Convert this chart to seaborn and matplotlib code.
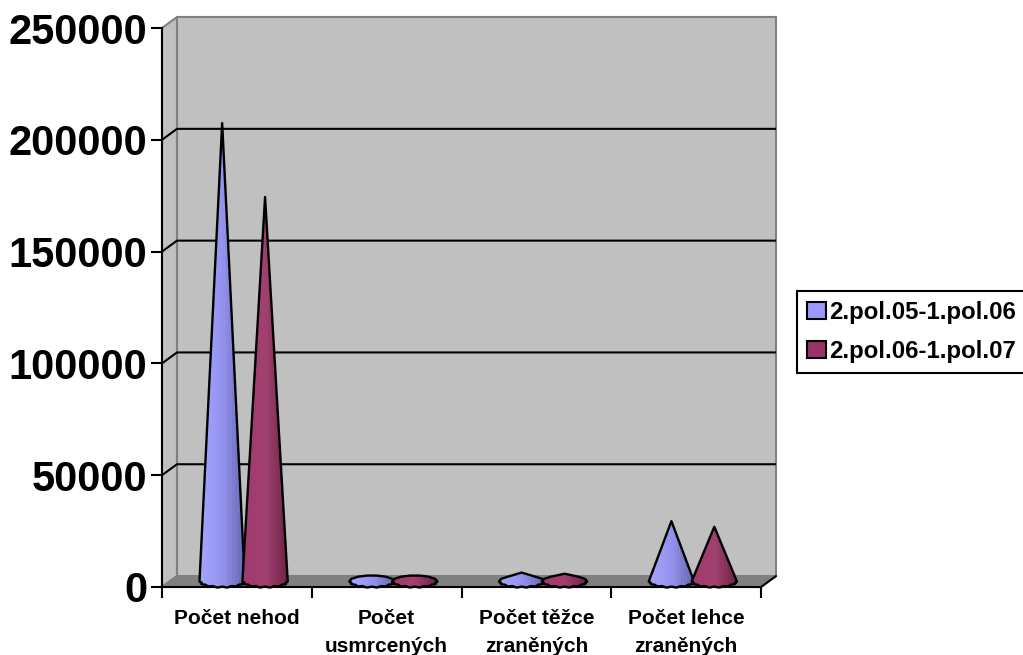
import numpy as np
import pandas as pd
import seaborn as sns
import matplotlib
matplotlib.use("Agg")
import matplotlib.pyplot as plt
from matplotlib.colors import LinearSegmentedColormap
from matplotlib.patches import Patch, Polygon

categories = ["Počet nehod", "Počet\nusmrcených", "Počet těžce\nzraněných", "Počet lehce\nzraněných"]
period_a = [205000, 1000, 4000, 27000]
period_b = [172000, 1000, 3500, 24500]
series_names = ["2.pol.05-1.pol.06", "2.pol.06-1.pol.07"]
y_ticks = [0, 50000, 100000, 150000, 200000, 250000]

WALL = "#c0c0c0"
EDGE = "#808080"
FILL = ["#9999ff", "#993366"]
RAMPS = [["#a6a6ff", "#9494f0", "#6464ac"], ["#a03a70", "#a2416f", "#6a2146"]]

DEPTH_X = 0.1       # horizontal depth of the 3D box, in category units
DEPTH_Y = 4900      # vertical depth of the 3D box, in value units
HALF_W = 0.147      # cone base half-width, in category units
HALF_H = 2500       # cone base half-height, in value units

sns.set_style("white")
plt.rcParams["font.family"] = ["Liberation Sans", "DejaVu Sans"]
plt.rcParams["font.weight"] = "bold"
plt.rcParams["text.color"] = "black"
plt.rcParams["xtick.labelcolor"] = "black"
plt.rcParams["ytick.labelcolor"] = "black"

W, H = 1023, 655
fig = plt.figure(figsize=(W / 100, H / 100), dpi=100, facecolor="white")
ax = fig.add_axes([162 / W, 1 - 587 / H, 599 / W, 559 / H])

frame = pd.DataFrame({
    "category": categories * 2,
    "period": [series_names[0]] * 4 + [series_names[1]] * 4,
    "value": period_a + period_b,
})
sns.barplot(data=frame, x="category", y="value", hue="period", hue_order=series_names,
            width=0.573, gap=0, palette=FILL, legend=False, ax=ax)

bars = [[(b.get_x() + b.get_width() / 2, b.get_height()) for b in c] for c in ax.containers]
for c in ax.containers:
    for b in c:
        b.set_visible(False)

x0, x1 = -0.5, 3.5
y0, y1 = 0, 250000
ax.set_xlim(x0, x1)
ax.set_ylim(y0, y1)
ax.set_facecolor("none")
ax.set_xlabel("")
ax.set_ylabel("")

# Box walls and floor
dx, dy = DEPTH_X, DEPTH_Y
def box_face(points, color, edge=EDGE, z=1):
    ax.add_patch(Polygon(points, closed=True, facecolor=color, edgecolor=edge,
                         linewidth=1.5, clip_on=False, zorder=z))

box_face([(x0 + dx, y0 + dy), (x1 + dx, y0 + dy), (x1 + dx, y1 + dy), (x0 + dx, y1 + dy)], WALL)
box_face([(x0, y0), (x0 + dx, y0 + dy), (x0 + dx, y1 + dy), (x0, y1)], WALL)
box_face([(x0, y0), (x1, y0), (x1 + dx, y0 + dy), (x0 + dx, y0 + dy)], EDGE)

# Gridlines run along the back wall and fold down the side wall to the axis
for t in y_ticks[1:-1]:
    ax.plot([x0, x0 + dx, x1 + dx], [t, t + dy, t + dy], color="black", lw=1.5,
            clip_on=False, zorder=2, solid_capstyle="butt")
ax.plot([x1, x1 + dx], [y0, y0 + dy], color="black", lw=1.5, clip_on=False, zorder=2)


def hull(points):
    pts = sorted(map(tuple, points))
    def half(seq):
        out = []
        for p in seq:
            while len(out) > 1 and ((out[-1][0] - out[-2][0]) * (p[1] - out[-2][1])
                                    - (out[-1][1] - out[-2][1]) * (p[0] - out[-2][0])) <= 0:
                out.pop()
            out.append(p)
        return out[:-1]
    return half(pts) + half(pts[::-1])


def draw_cone(cx, value, ramp, z):
    base_y = DEPTH_Y / 2
    t = np.linspace(0, 2 * np.pi, 96, endpoint=False)
    # The rim of the base is faceted, so it is drawn with small lobes
    lobes = 1 + 0.09 * np.cos(14 * t)
    ex = cx + HALF_W * (1 + 0.03 * np.cos(14 * t)) * np.cos(t)
    ey = base_y + HALF_H * lobes * np.sin(t)
    apex = (cx, base_y + value)
    rim = list(zip(ex, ey))
    silhouette = hull(rim + [apex])
    # Keep the lobed rim on the lower half and the straight hull above it
    lower = [p for p in rim if p[1] <= base_y]
    lower.sort(key=lambda p: p[0])
    upper = [p for p in silhouette if p[1] > base_y]
    upper.sort(key=lambda p: -p[0])
    outline = lower + upper
    shape = Polygon(outline, closed=True, facecolor="none", edgecolor="black", linewidth=1.7,
                    joinstyle="round", clip_on=False, zorder=z + 0.5)
    ax.add_patch(shape)
    u = np.linspace(0, 1, 120)
    shade = np.clip(u + 0.035 * np.sin(u * 90), 0, 1)[None, :]
    cmap = LinearSegmentedColormap.from_list("cone", ramp)
    top = max(base_y + value, base_y + HALF_H * 1.2)
    img = ax.imshow(shade, extent=(cx - HALF_W * 1.06, cx + HALF_W * 1.06, -800, top),
                    cmap=cmap, vmin=0, vmax=1, aspect="auto", zorder=z, interpolation="bilinear")
    img.set_clip_box(None)
    img.set_clip_path(Polygon(outline, closed=True, transform=ax.transData))


z = 3
for i in range(len(categories)):
    for s in range(2):
        cx, value = bars[s][i]
        draw_cone(cx + 0.045, value, RAMPS[s], z)
        z += 1

ax.set_xlim(x0, x1)
ax.set_ylim(y0, y1)

# Ticks sit on category boundaries; labels on category centres
ax.set_xticks(np.arange(x0, x1 + 0.5, 1))
ax.set_xticklabels([""] * 5)
ax.set_xticks(range(4), minor=True)
ax.set_xticklabels(categories, minor=True, fontsize=15, fontweight="bold", linespacing=1.62,
                   color="black")
ax.tick_params(axis="x", which="major", length=8, width=1.5, color="black", bottom=True)
ax.tick_params(axis="x", which="minor", length=0, pad=15.5, bottom=True)
ax.set_yticks(y_ticks)
ax.set_yticklabels([str(t) for t in y_ticks], fontsize=30, fontweight="bold", color="black")
ax.tick_params(axis="y", length=8, width=1.5, color="black", left=True, pad=2.5)

for side in ("top", "right"):
    ax.spines[side].set_visible(False)
for side in ("left", "bottom"):
    ax.spines[side].set_color("black")
    ax.spines[side].set_linewidth(1.5)
    ax.spines[side].set_zorder(2.5)

handles = [Patch(facecolor=FILL[k], edgecolor="black", linewidth=1.5, label=series_names[k]) for k in range(2)]
leg = fig.legend(handles=handles, loc="upper left", bbox_to_anchor=(797 / W, 1 - 291 / H),
                 borderaxespad=0, fancybox=False, framealpha=1, edgecolor="black",
                 prop={"family": "Liberation Sans", "weight": "bold", "size": 17.3},
                 handlelength=0.78, handleheight=0.72, handletextpad=0.12,
                 borderpad=0.42, labelspacing=0.65)
leg.get_frame().set_linewidth(1.5)

fig.savefig("out.png", dpi=100, facecolor="white")
